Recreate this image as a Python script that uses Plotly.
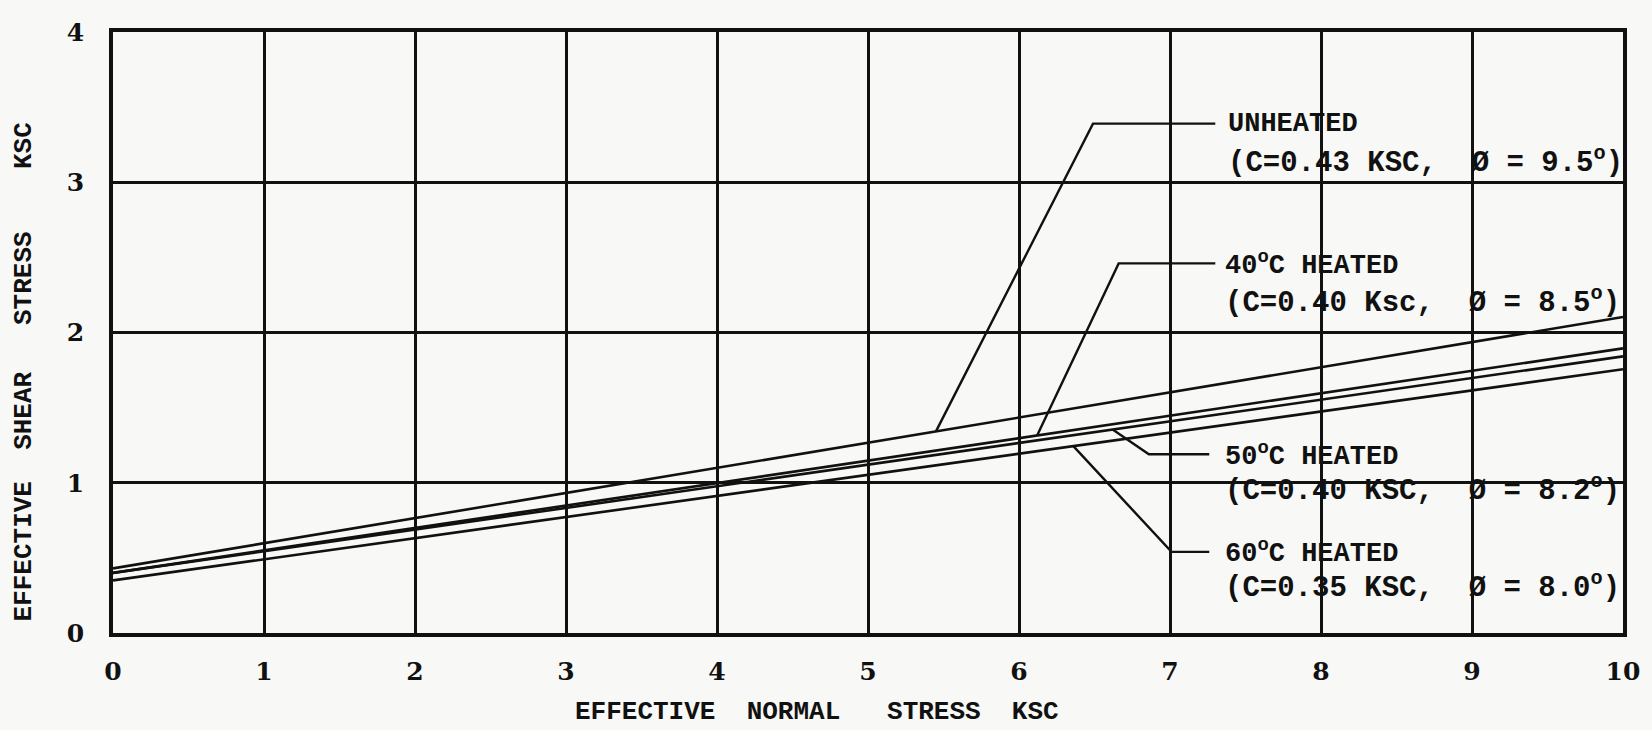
import math
import plotly.graph_objects as go

# Shear strength envelopes: tau = c + sigma * tan(phi)
series_names = ["UNHEATED", "40<sup>o</sup>C HEATED", "50<sup>o</sup>C HEATED", "60<sup>o</sup>C HEATED"]
cohesion_ksc = [0.43, 0.40, 0.40, 0.35]
friction_deg = [9.5, 8.5, 8.2, 8.0]
unit_labels = ["KSC", "Ksc", "KSC", "KSC"]
normal_stress_range = [0, 10]

x_ticks = list(range(0, 11))
y_ticks = list(range(0, 5))

# Leader line geometry (data coords): anchor x on envelope, elbow point, end of horizontal run
leader_anchor_x = [5.45, 6.12, 6.62, 6.36]
leader_elbow = [(6.49, 3.39), (6.66, 2.46), (6.86, 1.19), (7.01, 0.54)]
leader_end_x = [7.30, 7.30, 7.26, 7.26]
label_x = [7.37, 7.35, 7.35, 7.35]
label_line2_y = [3.14, 2.21, 0.96, 0.31]

INK = "#111111"
PAPER = "#f8f8f6"
MONO = "Liberation Mono, Courier New, monospace"

fig = go.Figure()

def envelope(i, s):
    return cohesion_ksc[i] + s * math.tan(math.radians(friction_deg[i]))

for i, name in enumerate(series_names):
    xs = normal_stress_range
    ys = [envelope(i, s) for s in xs]
    fig.add_trace(go.Scatter(x=xs, y=ys, mode="lines", name=name,
                             line=dict(color=INK, width=2.6), showlegend=False,
                             hoverinfo="skip"))

annotations = []
for i, name in enumerate(series_names):
    ax = leader_anchor_x[i]
    ex, ey = leader_elbow[i]
    fig.add_trace(go.Scatter(
        x=[ax, ex, leader_end_x[i]],
        y=[envelope(i, ax), ey, ey],
        mode="lines", line=dict(color=INK, width=2.4),
        showlegend=False, hoverinfo="skip"))
    line2 = "(C=%.2f %s,\u00a0\u00a0Ø\u00a0=\u00a0%.1f<sup>o</sup>)" % (
        cohesion_ksc[i], unit_labels[i], friction_deg[i])
    for txt, yy, sz in ((name, ey, 27), (line2, label_line2_y[i], 29)):
        annotations.append(dict(
            x=label_x[i], y=yy, xref="x", yref="y", text=txt, showarrow=False,
            xanchor="left", yanchor="middle",
            font=dict(family=MONO, size=sz, color=INK, weight="bold"),
            bgcolor="rgba(0,0,0,0)"))

annotations.append(dict(
    x=0.466, y=-0.131, xref="paper", yref="paper",
    text="EFFECTIVE\u00a0\u00a0NORMAL\u00a0\u00a0\u00a0STRESS\u00a0\u00a0KSC",
    showarrow=False, xanchor="center", yanchor="middle",
    font=dict(family=MONO, size=26, color=INK, weight="bold")))
annotations.append(dict(
    x=-0.059, y=0.435, xref="paper", yref="paper",
    text="EFFECTIVE\u00a0\u00a0SHEAR\u00a0\u00a0\u00a0STRESS\u00a0\u00a0\u00a0\u00a0KSC",
    showarrow=False, xanchor="center", yanchor="middle", textangle=-90,
    font=dict(family=MONO, size=26, color=INK, weight="bold")))

fig.update_layout(
    width=1652, height=730,
    margin=dict(l=113, r=19, t=32, b=97),
    paper_bgcolor=PAPER, plot_bgcolor=PAPER,
    annotations=annotations,
    showlegend=False,
)

tick_font = dict(family="DejaVu Serif, serif", size=25, color=INK, weight="bold")

fig.update_xaxes(
    range=[0, 10], tickvals=x_ticks, ticktext=[str(v) for v in x_ticks],
    showgrid=True, gridcolor=INK, gridwidth=2.5,
    showline=True, linecolor=INK, linewidth=3.5, mirror=True,
    zeroline=False, ticks="", ticklabelstandoff=13,
    tickfont=tick_font,
)
fig.update_yaxes(
    range=[0, 4], tickvals=y_ticks, ticktext=[str(v) for v in y_ticks],
    showgrid=True, gridcolor=INK, gridwidth=2.5,
    showline=True, linecolor=INK, linewidth=3.5, mirror=True,
    zeroline=False, ticks="", ticklabelstandoff=20,
    tickfont=tick_font,
)

fig.write_html("out.html")
